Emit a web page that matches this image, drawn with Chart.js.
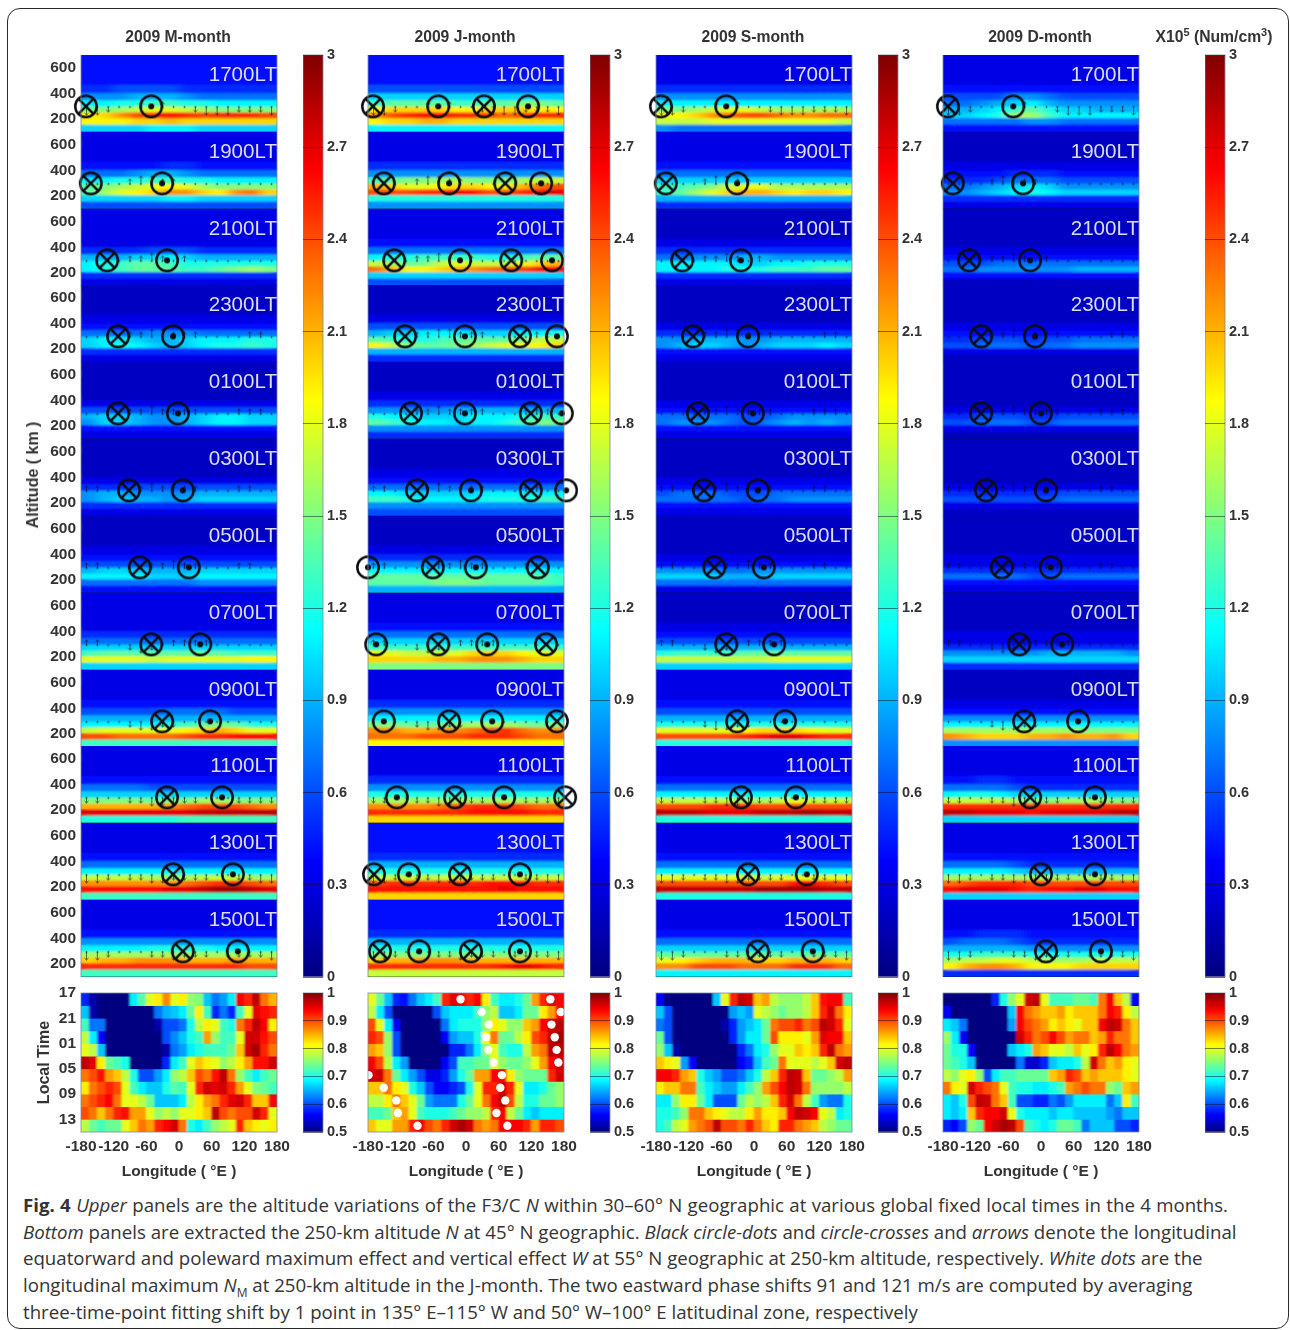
<!DOCTYPE html>
<html>
<head>
<meta charset="utf-8">
<title>Fig. 4</title>
<script src="https://cdn.jsdelivr.net/npm/chart.js@4/dist/chart.umd.min.js"></script>
<style>
  html, body { margin: 0; padding: 0; background: #fff; }
  #page { position: relative; width: 1290px; height: 1330px; overflow: hidden; font-family: "Liberation Sans", Arial, sans-serif; color: #333; }
  #frame { position: absolute; left: 7px; top: 8px; width: 1280px; height: 1319px; border: 1.5px solid #2a2a2a; border-radius: 13px; }
  #figure { position: absolute; left: 0; top: 0; width: 1290px; height: 1190px; filter: blur(0.45px); }
  canvas { position: absolute; }
  .title { position: absolute; top: 28px; font-weight: bold; font-size: 15.7px; white-space: nowrap; transform: translateX(-50%); }
  .title sup { font-size: 11px; line-height: 0; }
  .lt { position: absolute; font-size: 20.6px; color: #dcdcf2; width: 100px; text-align: right; z-index: 5; line-height: 24px; }
  .ylabel { position: absolute; font-weight: bold; font-size: 16px; white-space: nowrap; transform: translate(-50%, -50%) rotate(-90deg); }
  .cap { position: absolute; left: 23px; font-family: "Open Sans", sans-serif; font-size: 18.65px; line-height: 26px; color: #333; white-space: nowrap; }
  .cap sub { font-size: 12px; line-height: 0; }
</style>
</head>
<body>
<div id="page">
  <div id="frame"></div>
  <div id="figure"></div>
  <div class="cap" style="top:1192px;word-spacing:0.5px"><b>Fig. 4</b> <i>Upper</i> panels are the altitude variations of the F3/C <i>N</i> within 30–60° N geographic at various global fixed local times in the 4 months.</div>
  <div class="cap" style="top:1219px"><i>Bottom</i> panels are extracted the 250-km altitude <i>N</i> at 45° N geographic. <i>Black circle-dots</i> and <i>circle-crosses</i> and <i>arrows</i> denote the longitudinal</div>
  <div class="cap" style="top:1245px">equatorward and poleward maximum effect and vertical effect <i>W</i> at 55° N geographic at 250-km altitude, respectively. <i>White dots</i> are the</div>
  <div class="cap" style="top:1272px">longitudinal maximum <i>N</i><sub>M</sub> at 250-km altitude in the J-month. The two eastward phase shifts 91 and 121 m/s are computed by averaging</div>
  <div class="cap" style="top:1299px">three-time-point fitting shift by 1 point in 135° E–115° W and 50° W–100° E latitudinal zone, respectively</div>
</div>
<svg width="0" height="0" style="position:absolute">
  <filter id="softBand" x="-5%" y="-5%" width="110%" height="110%"><feGaussianBlur stdDeviation="6 1.3"/></filter>
  <filter id="softCell" x="-5%" y="-5%" width="110%" height="110%"><feGaussianBlur stdDeviation="1.2 0.7"/></filter>
</svg>
<script>
const monthTitles = ['2009 M-month', '2009 J-month', '2009 S-month', '2009 D-month'];
const localTimes = ['1700', '1900', '2100', '2300', '0100', '0300', '0500', '0700', '0900', '1100', '1300', '1500'];
const lonCenters = [-165, -135, -105, -75, -45, -15, 15, 45, 75, 105, 135, 165];
const altEdges = [700, 470, 405, 350, 300, 255, 210, 160, 100];
const altTicks = [200, 400, 600];
const lonTicks = [-180, -120, -60, 0, 60, 120, 180];
const densityTicks = [0, 0.3, 0.6, 0.9, 1.2, 1.5, 1.8, 2.1, 2.4, 2.7, 3];
const ratioTicks = [0.5, 0.6, 0.7, 0.8, 0.9, 1];
const phaseLons = [-172.5, -157.5, -142.5, -127.5, -112.5, -97.5, -82.5, -67.5, -52.5, -37.5, -22.5, -7.5, 7.5, 22.5, 37.5, 52.5, 67.5, 82.5, 97.5, 112.5, 127.5, 142.5, 157.5, 172.5];
const phaseHours = [17, 19, 21, 23, 25, 27, 29, 31, 33, 35, 37];
const phaseTicks = [17, 21, 25, 29, 33, 37];
const windLons = [-170, -150, -130, -110, -90, -70, -50, -30, -10, 10, 30, 50, 70, 90, 110, 130, 150, 170];

// upper panels: density x 10^4 per altitude bin (top to bottom), one line per local time
const mDensity = [
  [[4,4,4,4,4,4,4,4,4,4,4,4],[5,5,6,6,6,6,5,5,5,5,5,5],[8,8,8,9,9,9,8,7,7,7,7,7],[11,11,12,12,13,13,12,12,11,11,11,11],[15,15,16,17,18,18,17,16,15,15,15,15],[19,20,22,24,25,26,25,24,25,25,25,24],[19,19,19,20,20,21,20,20,20,20,20,20],[10,10,10,10,11,11,11,10,10,10,10,10]],
  [[3,3,3,3,3,3,3,3,3,3,3,3],[4,4,4,4,4,5,5,4,4,4,4,4],[7,7,7,8,9,9,8,7,7,7,7,7],[11,11,12,12,13,13,12,12,11,11,11,11],[14,15,16,17,18,19,18,16,15,15,15,15],[14,16,18,19,20,22,22,20,19,22,23,20],[10,10,10,10,10,11,11,10,10,10,10,10],[6,6,6,6,6,6,6,6,6,6,6,6]],
  [[3,3,3,3,3,3,3,3,3,3,3,3],[3,3,3,3,3,3,3,3,3,3,3,3],[5,5,5,5,6,6,6,5,5,5,5,5],[9,9,9,10,10,11,10,9,9,9,9,9],[11,12,13,14,14,13,12,12,12,12,12,12],[11,12,13,14,14,14,13,13,14,15,16,15],[5,5,5,5,5,5,5,5,5,5,5,5],[3,3,3,3,3,3,3,3,3,3,3,3]],
  [[2,2,2,2,2,2,2,2,2,2,2,2],[3,3,3,3,3,3,3,3,3,3,3,3],[4,4,4,4,4,4,4,4,4,4,4,4],[7,7,7,7,8,8,8,7,7,7,7,7],[10,11,11,10,9,9,10,11,11,11,12,12],[10,11,12,11,10,9,10,11,12,12,13,12],[5,5,5,5,5,5,5,5,5,5,5,5],[3,3,3,3,3,3,3,3,3,3,3,3]],
  [[2,2,2,2,2,2,2,2,2,2,2,2],[2,2,2,2,2,2,2,2,2,2,2,2],[3,3,3,3,3,3,3,3,3,3,3,3],[6,6,6,6,6,6,6,6,6,6,6,6],[9,10,10,9,8,8,9,10,11,11,10,10],[8,10,10,9,8,8,9,10,11,11,10,10],[4,4,4,4,4,4,4,4,4,4,4,4],[3,3,3,3,3,3,3,3,3,3,3,3]],
  [[2,2,2,2,2,2,2,2,2,2,2,2],[2,2,2,2,2,2,2,2,2,2,2,2],[3,3,3,3,3,3,3,3,3,3,3,3],[5,5,5,6,6,6,6,6,6,6,6,6],[8,9,9,8,8,8,8,9,9,9,9,9],[8,9,10,9,9,8,9,10,10,10,10,10],[5,5,5,5,5,5,5,5,5,5,5,5],[3,3,3,3,3,3,3,3,3,3,3,3]],
  [[2,2,2,2,2,2,2,2,2,2,2,2],[3,3,3,3,3,3,3,3,3,3,3,3],[4,4,4,4,4,4,4,4,4,4,4,4],[6,6,6,6,6,6,6,6,6,6,6,6],[9,10,10,10,9,9,9,10,10,10,10,10],[11,11,11,11,10,10,10,11,11,11,11,11],[7,7,7,7,7,7,7,8,8,8,8,8],[4,4,4,4,4,4,4,4,4,4,4,4]],
  [[3,3,3,3,3,3,3,3,3,3,3,3],[3,3,3,3,3,3,3,3,3,3,3,3],[5,5,5,5,5,5,5,5,5,5,5,5],[7,7,7,7,7,7,7,7,7,7,7,7],[10,10,10,10,10,10,10,10,10,10,10,10],[13,14,14,14,14,14,14,14,14,13,13,13],[18,18,18,18,17,18,18,18,18,18,19,19],[10,10,10,10,10,10,10,10,10,10,10,10]],
  [[3,3,3,3,3,3,3,3,3,3,3,3],[4,4,4,4,4,4,4,4,4,4,4,4],[6,6,6,6,6,7,7,7,7,6,6,6],[9,9,9,9,9,9,9,9,9,9,9,9],[11,11,11,11,11,12,13,14,15,14,12,12],[17,18,18,18,18,18,19,20,21,20,18,18],[24,24,23,23,23,23,24,25,25,26,26,26],[13,13,13,13,13,13,13,13,13,13,13,13]],
  [[3,3,3,3,3,3,3,3,3,3,3,3],[4,4,4,4,4,4,4,4,4,4,4,4],[7,7,7,7,6,6,6,6,6,6,6,6],[10,10,10,10,10,10,10,10,10,10,10,10],[15,15,15,15,14,15,15,16,16,15,15,15],[21,21,21,21,21,22,23,24,24,24,23,22],[27,27,27,27,27,27,27,28,28,28,28,28],[12,12,12,12,12,12,13,13,13,13,13,13]],
  [[3,3,3,3,3,3,3,3,3,3,3,3],[4,4,4,4,4,4,4,4,4,4,4,4],[7,7,7,7,7,7,7,7,7,7,7,7],[11,11,11,11,11,11,11,11,11,11,11,11],[17,17,17,17,16,16,16,17,17,17,16,16],[22,22,22,22,22,22,23,24,25,25,24,23],[26,26,26,26,26,27,27,28,29,29,28,27],[13,13,13,13,13,13,13,13,13,13,13,13]],
  [[3,3,3,3,3,3,3,3,3,3,3,3],[4,4,4,4,4,4,4,4,4,4,4,4],[8,8,8,8,8,8,8,8,8,8,8,8],[11,11,11,11,12,12,12,12,11,11,11,11],[16,16,16,16,16,16,16,16,16,16,16,16],[20,21,21,22,22,22,21,21,21,22,21,21],[25,25,25,25,25,25,25,25,25,25,24,24],[13,13,13,13,13,13,13,13,13,13,13,13]]
];
const jDensity = [
  [[4,4,4,4,4,4,4,4,4,4,4,4],[6,6,6,6,6,6,6,6,6,6,6,6],[10,10,10,10,10,10,10,10,10,10,10,10],[13,14,14,14,14,13,13,14,14,15,15,14],[19,20,20,20,20,19,19,20,20,20,19,19],[22,24,25,26,26,25,25,24,23,24,25,25],[19,20,20,21,21,20,20,20,20,20,20,20],[11,11,11,11,11,11,11,11,11,11,11,11]],
  [[3,3,3,3,3,3,3,3,3,3,3,3],[5,5,5,5,5,5,5,5,5,5,5,5],[8,8,8,8,8,8,8,8,8,8,8,8],[13,14,15,15,16,16,15,15,15,16,17,17],[21,20,18,18,19,20,20,19,19,21,23,24],[24,24,24,25,25,26,26,24,24,25,26,27],[12,12,12,12,12,12,12,12,12,12,12,12],[8,8,8,8,8,8,8,8,8,8,8,8]],
  [[3,3,3,3,3,3,3,3,3,3,3,3],[4,4,4,4,4,4,4,4,4,4,4,4],[7,7,7,7,7,7,7,7,7,7,7,7],[11,12,12,13,13,13,13,12,12,13,14,14],[17,16,14,15,17,18,17,17,17,18,20,21],[23,21,19,19,20,21,22,23,24,24,26,26],[10,10,10,10,10,10,10,10,10,10,10,10],[6,6,6,6,6,6,6,6,6,6,6,6]],
  [[2,2,2,2,2,2,2,2,2,2,2,2],[3,3,3,3,3,3,3,3,3,3,3,3],[6,6,6,6,6,6,6,6,6,6,6,6],[9,10,10,11,11,11,10,10,10,11,11,12],[14,13,12,12,13,14,14,14,14,15,17,17],[19,17,15,14,14,15,16,17,18,19,19,20],[9,9,9,9,9,9,9,9,9,9,9,9],[5,5,5,5,5,5,5,5,5,5,5,5]],
  [[2,2,2,2,2,2,2,2,2,2,2,2],[3,3,3,3,3,3,3,3,3,3,3,3],[5,5,5,5,5,5,5,5,5,5,5,5],[8,8,8,8,8,9,9,9,9,9,9,9],[12,11,11,10,10,10,11,11,11,12,13,13],[14,13,12,11,11,10,11,11,12,13,15,15],[8,8,8,8,8,8,8,8,8,8,8,8],[5,5,5,5,5,5,5,5,5,5,5,5]],
  [[2,2,2,2,2,2,2,2,2,2,2,2],[3,3,3,3,3,3,3,3,3,3,3,3],[4,4,4,4,4,4,4,4,4,4,4,4],[7,7,7,7,7,7,7,7,7,7,7,7],[11,11,10,10,10,10,10,11,11,11,11,11],[13,13,12,11,11,11,11,12,12,12,13,13],[8,8,8,8,8,8,8,8,8,8,8,8],[6,6,6,6,6,6,6,6,6,6,6,6]],
  [[2,2,2,2,2,2,2,2,2,2,2,2],[3,3,3,3,3,3,3,3,3,3,3,3],[5,5,5,5,5,5,5,5,5,5,5,5],[8,8,8,8,8,8,8,8,8,8,8,8],[11,11,11,11,11,11,11,11,11,11,11,11],[14,14,14,14,14,14,14,14,14,14,14,13],[14,14,14,14,15,15,15,14,14,14,14,13],[9,9,9,9,9,9,9,9,9,9,9,9]],
  [[3,3,3,3,3,3,3,3,3,3,3,3],[4,4,4,4,4,4,4,4,4,4,4,4],[7,7,7,7,7,7,7,7,7,7,7,7],[10,10,10,10,10,10,10,10,10,10,10,10],[13,13,13,13,13,13,13,13,13,13,13,13],[18,18,17,17,17,18,20,20,20,19,18,18],[20,20,20,20,21,21,22,22,22,21,20,20],[15,15,15,15,15,15,15,15,15,15,15,15]],
  [[3,3,3,3,3,3,3,3,3,3,3,3],[5,5,5,5,5,5,5,5,5,5,5,5],[8,8,8,8,8,8,8,8,8,8,8,8],[11,11,11,11,11,11,11,11,11,11,11,11],[15,15,14,14,14,15,16,16,16,15,14,15],[22,22,21,21,22,22,23,24,25,23,22,22],[23,23,23,24,24,24,25,25,25,24,23,23],[19,19,19,19,19,19,19,19,19,19,19,19]],
  [[3,3,3,3,3,3,3,3,3,3,3,3],[5,5,5,5,5,5,5,5,5,5,5,5],[8,8,8,8,8,8,8,8,8,8,8,8],[12,12,12,12,12,12,12,12,12,12,12,12],[16,16,16,16,16,16,16,16,16,16,16,16],[22,22,22,22,23,24,25,25,25,24,23,23],[25,25,25,25,25,25,26,26,26,26,25,25],[20,20,20,20,20,20,20,20,20,20,20,20]],
  [[4,4,4,4,4,4,4,4,4,4,4,4],[5,5,5,5,5,5,5,5,5,5,5,5],[9,9,9,9,9,9,9,9,9,9,9,9],[12,12,12,12,12,12,12,12,12,12,12,12],[17,17,17,17,17,17,17,17,17,17,17,17],[24,25,25,25,25,25,25,26,26,26,25,25],[26,26,26,26,26,26,26,26,27,26,26,26],[20,20,20,20,20,20,20,20,20,20,20,20]],
  [[4,4,4,4,4,4,4,4,4,4,4,4],[5,5,5,5,5,5,5,5,5,5,5,5],[9,9,9,9,9,9,9,9,9,9,9,9],[12,12,12,12,12,12,12,12,12,12,12,12],[15,15,15,15,15,15,15,15,15,15,15,15],[20,21,21,22,22,22,21,21,21,21,21,21],[25,25,25,25,25,25,25,25,26,27,26,25],[17,17,17,17,17,17,17,17,17,17,17,17]]
];
const sDensity = [
  [[3,3,3,3,3,3,3,3,3,3,3,3],[5,5,5,5,5,5,5,5,5,5,5,5],[8,8,8,8,8,8,8,8,8,8,8,8],[11,11,11,11,11,11,11,11,11,11,11,11],[15,15,16,17,18,18,17,16,16,16,16,16],[19,19,20,22,23,24,24,23,22,22,23,23],[17,17,17,18,18,18,18,18,18,18,18,17],[8,7,7,7,7,7,7,7,7,7,7,7]],
  [[3,3,3,3,3,3,3,3,3,3,3,3],[4,4,4,4,4,4,4,4,4,4,4,4],[7,7,7,7,7,7,7,7,7,7,7,7],[10,10,10,10,10,10,10,10,10,10,10,10],[13,13,14,15,17,18,18,16,16,16,16,16],[13,14,16,18,20,21,21,20,19,20,20,19],[9,9,9,9,9,9,9,9,9,9,9,9],[5,5,5,5,5,5,5,5,5,5,5,5]],
  [[2,2,2,2,2,2,2,2,2,2,2,2],[3,3,3,3,3,3,3,3,3,3,3,3],[5,5,5,5,5,5,5,5,5,5,5,5],[7,7,8,8,8,9,9,8,8,8,8,8],[11,11,11,11,11,10,10,11,11,12,12,12],[11,11,11,11,12,12,12,13,13,13,14,14],[5,5,5,5,5,5,5,5,5,5,5,5],[3,3,3,3,3,3,3,3,3,3,3,3]],
  [[2,2,2,2,2,2,2,2,2,2,2,2],[2,2,2,2,2,2,2,2,2,2,2,2],[3,3,3,3,3,3,3,3,3,3,3,3],[5,5,5,5,5,5,5,5,5,5,5,5],[8,8,9,9,9,8,8,9,9,9,9,9],[8,9,10,10,9,8,9,10,10,10,11,10],[4,4,4,4,4,4,4,4,4,4,4,4],[3,3,3,3,3,3,3,3,3,3,3,3]],
  [[2,2,2,2,2,2,2,2,2,2,2,2],[2,2,2,2,2,2,2,2,2,2,2,2],[3,3,3,3,3,3,3,3,3,3,3,3],[4,4,4,4,4,4,4,4,4,4,4,4],[7,7,7,7,7,6,6,7,8,8,8,8],[7,8,8,8,7,6,7,8,9,8,9,8],[4,4,4,4,4,4,4,4,4,4,4,4],[3,3,3,3,3,3,3,3,3,3,3,3]],
  [[2,2,2,2,2,2,2,2,2,2,2,2],[2,2,2,2,2,2,2,2,2,2,2,2],[3,3,3,3,3,3,3,3,3,3,3,3],[4,4,4,4,4,4,4,4,4,4,4,4],[6,7,7,7,6,6,6,7,7,7,7,7],[7,7,7,7,7,6,7,7,8,8,8,8],[4,4,4,4,4,4,4,4,4,4,4,4],[3,3,3,3,3,3,3,3,3,3,3,3]],
  [[2,2,2,2,2,2,2,2,2,2,2,2],[2,2,2,2,2,2,2,2,2,2,2,2],[3,3,3,3,3,3,3,3,3,3,3,3],[4,4,4,4,4,4,4,4,4,4,4,4],[8,8,8,8,7,7,8,8,8,8,8,8],[10,10,10,10,9,9,9,10,10,10,10,10],[7,7,7,7,7,7,7,7,7,7,7,7],[3,3,3,3,3,3,3,3,3,3,3,3]],
  [[2,2,2,2,2,2,2,2,2,2,2,2],[3,3,3,3,3,3,3,3,3,3,3,3],[4,4,4,4,4,4,4,4,4,4,4,4],[6,6,6,6,6,6,6,6,6,6,6,6],[9,9,9,9,9,9,9,9,9,9,9,9],[12,13,13,13,13,14,14,14,14,14,14,14],[17,17,17,17,17,17,17,18,18,18,18,18],[10,10,10,10,10,10,10,10,10,10,10,10]],
  [[3,3,3,3,3,3,3,3,3,3,3,3],[4,4,4,4,4,4,4,4,4,4,4,4],[6,6,6,6,6,6,6,6,6,6,6,6],[9,9,9,9,9,9,9,9,9,9,9,9],[12,12,12,12,12,12,12,12,12,12,12,12],[18,18,18,18,18,19,20,20,20,19,18,18],[24,24,24,24,24,25,26,27,27,26,25,25],[12,12,12,12,12,12,12,12,12,12,12,12]],
  [[3,3,3,3,3,3,3,3,3,3,3,3],[4,4,4,4,4,4,4,4,4,4,4,4],[7,7,7,7,7,7,7,7,7,7,7,7],[11,11,11,11,11,11,11,11,11,11,11,11],[17,17,17,17,17,16,16,17,18,17,17,17],[24,24,24,25,25,25,24,24,24,24,24,24],[28,28,28,27,27,27,28,28,28,29,28,28],[12,12,12,12,12,12,12,12,12,12,12,12]],
  [[3,3,3,3,3,3,3,3,3,3,3,3],[4,4,4,4,4,4,4,4,4,4,4,4],[7,7,7,7,7,7,7,7,7,7,7,7],[11,11,11,11,11,11,11,11,11,11,11,11],[18,18,18,18,18,18,17,18,18,18,18,18],[24,24,24,24,24,24,24,24,26,26,25,24],[28,28,28,28,28,28,29,29,29,29,28,28],[12,12,12,12,12,12,12,12,12,12,12,12]],
  [[3,3,3,3,3,3,3,3,3,3,3,3],[4,4,4,4,4,4,4,4,4,4,4,4],[7,7,7,7,7,7,7,7,7,7,7,7],[10,10,10,10,10,10,10,10,10,10,10,10],[14,14,14,14,14,14,14,14,14,14,14,14],[18,19,20,21,21,21,20,20,21,21,21,20],[22,22,24,24,24,23,23,23,25,25,25,23],[11,11,11,11,11,11,11,11,11,11,11,11]]
];
const dDensity = [
  [[3,3,3,3,3,3,3,3,3,3,3,3],[4,4,4,4,4,4,4,4,4,4,4,4],[6,6,6,6,8,8,7,6,6,6,6,6],[7,7,8,9,10,11,9,8,8,8,8,8],[9,9,10,11,13,14,12,10,10,9,9,9],[10,10,11,12,16,16,13,11,11,11,11,11],[7,7,7,7,7,8,8,7,7,7,7,7],[4,4,4,4,4,4,4,4,4,4,4,4]],
  [[2,2,2,2,2,2,2,2,2,2,2,2],[3,3,3,3,3,3,3,3,3,3,3,3],[4,4,4,4,5,5,5,4,4,4,4,4],[5,5,5,6,7,7,7,6,6,6,6,6],[7,7,8,9,10,11,10,8,8,8,8,8],[8,8,9,10,11,12,11,10,10,10,10,10],[5,5,5,5,5,5,5,5,5,5,5,5],[3,3,3,3,3,3,3,3,3,3,3,3]],
  [[2,2,2,2,2,2,2,2,2,2,2,2],[2,2,2,2,2,2,2,2,2,2,2,2],[3,3,3,3,3,3,3,3,3,3,3,3],[4,4,4,4,4,4,4,4,4,4,4,4],[6,6,6,7,7,7,7,7,7,7,7,7],[7,7,8,8,8,8,8,8,9,9,9,9],[4,4,4,4,4,4,4,4,4,4,4,4],[2,2,2,2,2,2,2,2,2,2,2,2]],
  [[2,2,2,2,2,2,2,2,2,2,2,2],[2,2,2,2,2,2,2,2,2,2,2,2],[3,3,3,3,3,3,3,3,3,3,3,3],[4,4,4,4,4,4,4,4,4,4,4,4],[5,5,6,6,6,5,6,6,7,7,7,7],[6,6,7,7,7,6,7,7,8,8,8,8],[3,3,3,3,3,3,3,3,3,3,3,3],[2,2,2,2,2,2,2,2,2,2,2,2]],
  [[2,2,2,2,2,2,2,2,2,2,2,2],[2,2,2,2,2,2,2,2,2,2,2,2],[2,2,2,2,2,2,2,2,2,2,2,2],[3,3,3,3,3,3,3,3,3,3,3,3],[5,5,6,6,6,5,5,6,6,6,6,6],[6,6,7,7,7,6,6,7,7,7,7,7],[3,3,3,3,3,3,3,3,3,3,3,3],[2,2,2,2,2,2,2,2,2,2,2,2]],
  [[2,2,2,2,2,2,2,2,2,2,2,2],[2,2,2,2,2,2,2,2,2,2,2,2],[2,2,2,2,2,2,2,2,2,2,2,2],[3,3,3,3,3,3,3,3,3,3,3,3],[5,5,5,5,5,5,5,6,6,6,6,6],[6,6,6,6,6,6,6,7,7,7,7,7],[3,3,3,3,3,3,3,3,3,3,3,3],[2,2,2,2,2,2,2,2,2,2,2,2]],
  [[2,2,2,2,2,2,2,2,2,2,2,2],[2,2,2,2,2,2,2,2,2,2,2,2],[3,3,3,3,3,3,3,3,3,3,3,3],[3,3,3,3,3,3,3,3,3,3,3,3],[5,5,5,5,5,5,5,5,5,5,5,5],[7,7,7,7,7,6,6,7,7,7,7,7],[4,4,4,4,4,4,4,4,4,4,4,4],[3,3,3,3,3,3,3,3,3,3,3,3]],
  [[2,2,2,2,2,2,2,2,2,2,2,2],[2,2,2,2,2,2,2,2,2,2,2,2],[3,3,3,3,3,3,3,3,3,3,3,3],[3,3,3,3,3,3,3,3,3,3,3,3],[5,5,5,5,5,5,5,5,5,5,5,5],[8,8,8,8,8,8,9,9,9,9,9,8],[10,10,10,10,10,10,10,10,10,10,10,10],[5,5,5,5,5,5,5,5,5,5,5,5]],
  [[2,2,2,2,2,2,2,2,2,2,2,2],[3,3,3,3,3,3,3,3,3,3,3,3],[4,4,4,4,4,4,4,4,4,4,4,4],[8,8,8,8,8,8,8,8,8,8,8,8],[11,11,11,11,11,11,11,11,11,11,11,11],[16,16,16,16,16,16,16,16,15,15,15,15],[22,21,20,20,20,21,21,22,21,21,22,20],[8,8,8,8,8,8,8,8,8,8,8,8]],
  [[3,3,3,3,3,3,3,3,3,3,3,3],[4,4,5,5,4,4,4,4,4,4,4,4],[7,7,7,7,6,5,5,5,5,5,5,5],[11,12,12,11,10,10,10,10,10,10,10,10],[17,17,17,17,16,15,15,16,16,16,15,15],[25,25,25,25,25,25,25,25,25,25,25,25],[28,28,27,27,27,26,27,27,27,27,28,28],[10,10,10,10,10,10,10,10,10,10,10,10]],
  [[3,3,3,3,3,3,3,3,3,3,3,3],[4,4,4,4,4,4,4,4,4,4,4,4],[7,7,7,7,6,5,5,5,5,5,5,5],[11,11,11,11,10,9,9,9,9,9,9,9],[16,16,16,16,16,16,16,16,16,16,16,16],[23,24,25,25,25,24,24,24,24,24,24,24],[26,27,27,27,26,25,26,26,27,27,26,26],[10,10,10,10,10,10,10,10,10,10,10,10]],
  [[3,3,3,3,3,3,3,3,3,3,3,3],[4,4,5,5,5,4,4,4,4,4,4,4],[6,7,7,7,6,5,5,5,5,5,5,5],[9,9,9,9,9,8,8,8,8,8,8,8],[12,12,13,13,13,12,12,12,12,12,12,12],[16,17,17,18,18,17,16,16,16,17,17,17],[19,21,22,22,21,19,19,19,20,20,20,20],[5,5,5,5,5,5,5,5,5,5,5,5]]
];

// bottom panels: 250-km density ratio in percent, one line per 2 h step
const mPhase = [
  [58,52,50,50,50,50,68,73,80,82,87,80,82,76,75,66,62,64,68,94,92,97,88,85],
  [66,52,50,50,50,50,50,50,50,62,65,66,68,74,82,72,58,62,58,72,80,95,93,92],
  [72,62,62,50,50,50,50,50,50,52,60,60,62,70,78,82,80,72,70,88,92,97,94,82],
  [78,68,56,50,50,50,50,50,50,50,60,63,66,70,72,86,76,72,72,80,96,96,93,90],
  [80,78,66,50,50,50,50,50,50,50,52,62,64,68,70,72,72,72,74,84,96,98,92,88],
  [97,95,82,74,72,70,50,50,50,50,58,68,72,80,84,82,80,76,78,82,86,93,93,96],
  [88,90,93,86,84,78,70,60,60,64,68,76,78,84,90,88,93,97,88,76,72,68,72,74],
  [82,88,90,92,90,80,72,68,66,66,70,73,72,80,92,96,95,96,92,86,80,75,74,72],
  [88,90,92,94,88,80,80,78,74,66,66,66,68,78,82,86,88,92,95,96,92,84,84,94],
  [90,88,84,88,92,93,86,86,80,76,78,76,80,80,82,84,97,90,88,90,90,96,92,80],
  [78,74,72,74,74,80,84,88,86,92,94,96,88,70,68,72,76,78,80,92,84,82,80,82]
];
const jPhase = [
  [80,74,66,58,57,62,66,68,72,92,95,94,92,94,82,72,68,68,70,74,86,92,95,94],
  [78,68,60,50,50,50,50,50,60,66,68,68,68,72,76,78,66,66,68,74,74,82,86,94],
  [90,80,68,56,50,50,50,50,50,62,68,70,70,70,76,82,80,76,76,84,86,94,96,97],
  [92,90,76,60,50,50,50,50,50,56,64,66,66,70,82,88,74,74,78,82,90,92,97,98],
  [86,84,76,60,50,50,50,50,50,50,58,58,62,68,76,80,72,70,70,78,86,88,97,97],
  [94,90,78,68,64,50,50,50,50,56,60,72,72,74,74,80,76,74,74,76,80,86,94,96],
  [96,96,88,74,68,64,60,55,55,58,64,70,74,86,86,94,94,82,76,74,74,74,92,96],
  [84,84,88,82,80,70,66,60,56,56,58,60,70,80,92,92,96,92,80,68,68,70,74,76],
  [78,78,82,88,84,80,74,64,62,62,62,70,74,80,88,94,97,90,78,70,70,74,74,76],
  [72,72,74,84,86,80,72,70,70,70,72,74,76,76,78,92,94,78,74,68,66,68,68,68],
  [84,80,80,86,86,92,94,90,88,92,96,98,96,88,86,88,94,94,94,92,86,92,92,90]
];
const sPhase = [
  [56,50,50,50,50,50,50,66,80,92,97,96,84,86,78,76,76,76,78,84,93,94,94,72],
  [66,60,50,50,50,50,50,50,50,64,66,64,80,78,76,74,76,76,78,84,92,96,88,82],
  [62,60,50,50,50,50,50,50,52,58,64,66,68,74,88,90,90,92,88,90,97,96,92,80],
  [74,60,50,50,50,50,50,50,50,58,64,68,68,74,90,82,82,82,80,86,95,94,94,84],
  [76,66,52,50,50,50,50,50,50,50,58,62,68,70,76,80,80,84,82,84,92,97,88,86],
  [84,82,80,64,56,50,50,50,50,50,56,58,66,72,74,88,80,80,80,78,80,84,96,97],
  [94,94,92,86,84,70,66,64,60,60,62,66,70,78,84,92,97,96,84,74,74,76,78,86],
  [82,84,84,88,88,72,68,66,64,64,68,72,76,86,90,94,97,96,88,76,76,76,76,78],
  [68,68,76,82,82,74,68,60,60,60,74,78,76,78,84,92,96,88,78,72,64,62,62,70],
  [70,70,72,76,88,88,84,82,80,78,78,82,86,82,82,84,94,97,96,94,80,78,68,70],
  [70,72,78,80,86,88,90,97,90,90,88,92,88,84,82,92,92,88,86,84,78,76,74,74]
];
const dPhase = [
  [50,50,50,50,50,50,58,70,76,80,96,97,80,72,72,72,74,74,72,88,94,84,78,56],
  [56,50,50,50,50,50,50,50,66,94,88,86,84,84,86,82,84,84,84,88,94,92,82,78],
  [68,66,62,50,50,50,50,50,64,94,90,88,86,82,84,82,80,84,84,94,97,96,88,84],
  [76,68,56,50,50,50,50,50,50,96,92,88,90,94,90,86,88,88,84,86,92,88,88,84],
  [74,70,70,56,50,50,50,50,66,68,70,86,84,80,80,78,84,80,82,92,97,94,88,86],
  [74,72,70,66,50,50,50,50,50,62,54,54,58,66,68,68,70,78,96,88,84,86,82,80],
  [78,76,80,82,76,60,68,72,72,74,74,74,74,84,86,92,90,84,86,84,84,84,82,80],
  [88,82,80,96,92,90,88,80,72,70,70,68,68,70,72,86,88,90,88,88,76,74,84,86],
  [68,66,70,90,97,96,88,84,72,60,60,58,58,62,60,64,68,68,68,68,62,66,82,72],
  [68,66,68,84,92,94,94,96,80,70,68,68,68,66,68,68,66,66,66,66,64,62,66,66],
  [58,56,60,76,74,94,96,98,97,90,72,70,68,70,74,74,72,62,66,66,66,60,60,58]
];

// poleward (cross) and equatorward (dot) maxima, longitude per local time
const mCross = [[-171],[-162],[-132],[-112],[-112],[-92],[-72],[-51],[-31],[-22],[-11],[7]];
const mDots = [[-51],[-31],[-22],[-11],[-2],[7],[18],[39],[57],[79],[99],[108]];
const jCross = [[-171,33],[-151,72],[-132,83],[-112,99],[-101,119],[-90,119],[-61,132],[-51,147],[-31,167],[-20,182],[-169,-11],[-158,9]];
const jDots = [[-51,114],[-31,138],[-11,158],[-2,167],[-2,176],[9,184],[-180,18],[-165,39],[-151,48],[-127,70],[-105,99],[-86,99]];
const sCross = [[-171],[-162],[-132],[-112],[-103],[-92],[-73],[-51],[-31],[-24],[-11],[7]];
const sDots = [[-51],[-31],[-24],[-11],[-2],[7],[18],[37],[57],[77],[97],[108]];
const dCross = [[-171],[-162],[-132],[-110],[-110],[-101],[-72],[-40],[-31],[-20],[0],[9]];
const dDots = [[-51],[-33],[-20],[-11],[0],[9],[18],[39],[68],[99],[99],[110]];

// vertical effect W per local time: negative down, positive up, 0 only a dot
const windW = [
  [-2,-2,-1,0,0,1,0,1,0,0,-1,-2,-2,-2,-1,-1,-1,-2],
  [0,0,0,0,1,2,2,1,1,0,0,0,0,0,0,0,0,0],
  [0,0,0,0,1,1,2,1,0,1,0,0,0,0,0,0,0,0],
  [0,0,0,0,1,1,2,2,1,1,1,0,0,0,0,1,1,0],
  [0,0,0,0,1,1,2,1,1,1,1,0,0,0,1,1,1,0],
  [1,1,0,0,0,1,2,1,1,1,1,0,0,0,1,1,0,0],
  [1,1,0,0,0,0,1,1,2,1,1,0,0,0,1,1,0,0],
  [1,1,0,0,-1,-2,-1,0,1,1,1,1,0,0,0,0,0,0],
  [0,0,0,0,-1,-2,-2,-1,-1,0,0,0,0,0,0,0,0,0],
  [-1,-1,0,0,-1,-1,-2,-2,-2,-1,-1,0,0,0,-1,-1,-1,-1],
  [-2,-2,-1,0,-1,-1,-2,-2,-1,-1,-1,-1,0,0,-1,-1,-2,-2],
  [-2,-2,-1,0,0,0,-1,-1,-2,-1,-1,-1,0,-1,-1,-1,-1,-2]
];

// white dots of the J-month bottom panel: [longitude, hour]
const jWhiteLon = [-10,155,28.5,174,42,157,37,163,41,166.5,50.6,169.6,-179,66,-151,63,-128,72,-125,56,-89,76];
const jWhiteHour = [18,18,20,20,22,22,24,24,26,26,28,28,30,30,32,32,34,34,36,36,38,38];

const panelLefts = [81, 368, 656, 943];
const barLefts = [303, 590, 878, 1205];
const density = [mDensity, jDensity, sDensity, dDensity];
const phase = [mPhase, jPhase, sPhase, dPhase];
const crosses = [mCross, jCross, sCross, dCross];
const dots = [mDots, jDots, sDots, dDots];

const AXIS_FONT = { family: "'Liberation Sans', Arial, sans-serif", size: 15.5, weight: 'bold' };
const BAR_FONT = { family: "'Liberation Sans', Arial, sans-serif", size: 14.5, weight: 'bold' };
const SIDE_FONT = { family: "'Liberation Sans', Arial, sans-serif", size: 16, weight: 'bold' };
const AXIS_COLOR = '#333';
const figure = document.getElementById('figure');

// matlab jet, t in 0..1
function jet(t) {
  const ch = x => Math.round(255 * Math.max(0, Math.min(1, 1.5 - Math.abs(4 * t - x))));
  return `rgb(${ch(3)},${ch(2)},${ch(1)})`;
}

function makeIcon(w, h, draw) {
  const c = document.createElement('canvas');
  c.width = w;
  c.height = h;
  const g = c.getContext('2d');
  g.translate(w / 2, h / 2);
  g.strokeStyle = g.fillStyle = '#0c0c14';
  draw(g);
  return c;
}

const crossIcon = makeIcon(28, 28, g => {
  g.lineWidth = 2.5;
  g.beginPath();
  g.arc(0, 0, 10.7, 0, Math.PI * 2);
  g.moveTo(-7.6, -7.6);
  g.lineTo(7.6, 7.6);
  g.moveTo(7.6, -7.6);
  g.lineTo(-7.6, 7.6);
  g.stroke();
});
const dotIcon = makeIcon(28, 28, g => {
  g.lineWidth = 2.5;
  g.beginPath();
  g.arc(0, 0, 10.7, 0, Math.PI * 2);
  g.stroke();
  g.beginPath();
  g.arc(0, 0, 3, 0, Math.PI * 2);
  g.fill();
});

function arrowIcon(len) {
  return makeIcon(7, 21, g => {
    g.globalAlpha = 0.75;
    g.lineWidth = 0.8;
    g.beginPath();
    g.arc(0, 0, 0.9, 0, Math.PI * 2);
    g.fill();
    if (!len) return;
    g.beginPath();
    g.moveTo(0, 0);
    g.lineTo(0, len);
    g.moveTo(-2, len - 2 * Math.sign(len));
    g.lineTo(0, len);
    g.lineTo(2, len - 2 * Math.sign(len));
    g.stroke();
  });
}
const windIcons = { '-2': arrowIcon(8), '-1': arrowIcon(5), '0': arrowIcon(0), '1': arrowIcon(-5), '2': arrowIcon(-8) };

// soften the heat cells, then markers get drawn sharp on top
function softenPlugin(filter) {
  return {
    id: 'soften',
    afterDatasetDraw(chart, args) {
      if (args.index !== 0) return;
      const { ctx, canvas, chartArea: a } = chart;
      ctx.save();
      ctx.beginPath();
      ctx.rect(a.left, a.top, a.width, a.height);
      ctx.clip();
      ctx.filter = filter;
      ctx.drawImage(canvas, 0, 0);
      ctx.restore();
    }
  };
}

const framePlugin = {
  id: 'panelFrame',
  afterDatasetsDraw(chart) {
    const { ctx, chartArea: a } = chart;
    ctx.save();
    ctx.strokeStyle = 'rgba(125,135,160,0.8)';
    ctx.lineWidth = 1;
    ctx.strokeRect(a.left, a.top, a.width, a.height);
    ctx.restore();
  }
};

// stacked panels: grey sides only, plus a faint dark line under each one
const stackEdgePlugin = {
  id: 'stackEdge',
  afterDatasetsDraw(chart) {
    const { ctx, chartArea: a } = chart;
    ctx.save();
    ctx.lineWidth = 1;
    ctx.strokeStyle = 'rgba(125,135,160,0.8)';
    ctx.beginPath();
    ctx.moveTo(a.left, a.top);
    ctx.lineTo(a.left, a.bottom);
    ctx.moveTo(a.right, a.top);
    ctx.lineTo(a.right, a.bottom);
    ctx.stroke();
    ctx.strokeStyle = 'rgba(0,30,60,0.35)';
    ctx.beginPath();
    ctx.moveTo(a.left, a.bottom - 0.5);
    ctx.lineTo(a.right, a.bottom - 0.5);
    ctx.stroke();
    ctx.restore();
  }
};

// axes must not claim room for their labels, the panels sit at fixed places
function fixAxisBox(s, size) {
  if (s.isHorizontal()) s.height = size;
  else s.width = size;
  s.paddingLeft = s.paddingRight = s.paddingTop = s.paddingBottom = 0;
}

function addCanvas(left, top, width, height) {
  const c = document.createElement('canvas');
  c.style.left = left + 'px';
  c.style.top = top + 'px';
  c.width = width;
  c.height = height;
  figure.appendChild(c);
  return c;
}

const baseOptions = {
  responsive: false,
  animation: false,
  events: [],
  plugins: { legend: { display: false }, tooltip: { enabled: false }, title: { display: false } }
};

function heatDataset(points, colorOf) {
  return {
    data: points,
    barPercentage: 1,
    categoryPercentage: 1,
    grouped: false,
    borderWidth: 0,
    backgroundColor: c => colorOf(c.raw.v)
  };
}

function markerDataset(lons, y, icon) {
  return { type: 'scatter', order: -1, clip: false, data: lons.map(x => ({ x, y })), pointStyle: icon };
}

function drawUpperPanel(col, row) {
  const top = Math.round(55 + row * 76.83);
  const showAxis = col === 0;
  const padLeft = showAxis ? 46 : 14;
  const canvas = addCanvas(panelLefts[col] - padLeft, top, 196 + padLeft + 14, 77);
  const rows = density[col][row];

  const datasets = rows.map((vals, i) => heatDataset(
    lonCenters.map((x, j) => ({ x, y: [altEdges[i + 1], altEdges[i]], v: vals[j] })),
    v => jet(v / 30)
  ));
  datasets.push(markerDataset(crosses[col][row], 300, crossIcon));
  datasets.push(markerDataset(dots[col][row], 300, dotIcon));
  datasets.push({
    type: 'scatter',
    order: -0.5,
    clip: false,
    data: windLons.map((x, j) => ({ x, y: 295, w: windW[row][j] })),
    pointStyle: c => windIcons[c.raw.w]
  });

  new Chart(canvas, {
    type: 'bar',
    data: { datasets },
    options: {
      ...baseOptions,
      layout: { autoPadding: false, padding: { left: showAxis ? 0 : 14, right: 14, top: 0, bottom: 0 } },
      scales: {
        x: { type: 'linear', min: -180, max: 180, offset: false, display: false },
        y: {
          type: 'linear',
          min: 100,
          max: 700,
          display: showAxis,
          border: { display: false },
          grid: { display: false, drawTicks: false },
          afterFit: s => { if (showAxis) fixAxisBox(s, 46); },
          afterBuildTicks: s => { s.ticks = altTicks.map(value => ({ value })); },
          ticks: { color: AXIS_COLOR, font: AXIS_FONT, padding: 5 }
        }
      }
    },
    plugins: [softenPlugin('url(#softBand)'), stackEdgePlugin]
  });

  const label = document.createElement('div');
  label.className = 'lt';
  label.textContent = localTimes[row] + 'LT';
  label.style.left = (panelLefts[col] + 196 - 100) + 'px';
  label.style.top = (top + 7) + 'px';
  figure.appendChild(label);
}

function drawPhasePanel(col) {
  const showAxis = col === 0;
  const padLeft = 46;
  const canvas = addCanvas(panelLefts[col] - padLeft, 983, 196 + padLeft + 40, 10 + 139 + 51);

  const datasets = phase[col].map((vals, i) => heatDataset(
    phaseLons.map((x, j) => ({ x, y: [phaseHours[i], phaseHours[i] + 2], v: vals[j] })),
    v => jet((v - 50) / 50)
  ));
  if (col === 1) {
    datasets.push({
      type: 'scatter',
      order: -1,
      clip: false,
      data: jWhiteLon.map((x, i) => ({ x, y: jWhiteHour[i] })),
      pointStyle: 'circle',
      pointRadius: 4.2,
      pointBorderWidth: 0,
      pointBackgroundColor: '#fff'
    });
  }

  new Chart(canvas, {
    type: 'bar',
    data: { datasets },
    options: {
      ...baseOptions,
      layout: { autoPadding: false, padding: { left: showAxis ? 0 : padLeft, right: 40, top: 10, bottom: 0 } },
      scales: {
        x: {
          type: 'linear',
          min: -180,
          max: 180,
          offset: false,
          border: { display: false },
          grid: { display: false, drawTicks: false },
          afterFit: s => fixAxisBox(s, 51),
          afterBuildTicks: s => { s.ticks = lonTicks.map(value => ({ value })); },
          ticks: { color: AXIS_COLOR, font: AXIS_FONT, padding: 5, autoSkip: false, maxRotation: 0, callback: v => String(v) },
          title: { display: true, text: 'Longitude ( °E )', color: AXIS_COLOR, font: AXIS_FONT, padding: { top: 4, bottom: 2 } }
        },
        y: {
          type: 'linear',
          min: 17,
          max: 39,
          reverse: true,
          display: showAxis,
          border: { display: false },
          grid: { display: false, drawTicks: false },
          afterFit: s => { if (showAxis) fixAxisBox(s, padLeft); },
          afterBuildTicks: s => { s.ticks = phaseTicks.map(value => ({ value })); },
          ticks: { color: AXIS_COLOR, font: AXIS_FONT, padding: 5, callback: v => String(v % 24).padStart(2, '0') },
          title: { display: true, text: 'Local Time', color: AXIS_COLOR, font: SIDE_FONT, padding: { top: 0, bottom: 4 } }
        }
      }
    },
    plugins: [softenPlugin('url(#softCell)'), framePlugin]
  });
}

function drawColorBar(left, top, height, lo, hi, ticks) {
  const canvas = addCanvas(left, top - 10, 20 + 44, height + 20);
  new Chart(canvas, {
    type: 'bar',
    data: {
      labels: ['bar'],
      datasets: [{
        data: [[lo, hi]],
        barPercentage: 1,
        categoryPercentage: 1,
        borderWidth: 0,
        backgroundColor: c => {
          const area = c.chart.chartArea;
          if (!area) return '#000';
          const grad = c.chart.ctx.createLinearGradient(0, area.bottom, 0, area.top);
          for (let s = 0; s <= 16; s++) grad.addColorStop(s / 16, jet(s / 16));
          return grad;
        }
      }]
    },
    options: {
      ...baseOptions,
      layout: { autoPadding: false, padding: { left: 0, right: 0, top: 10, bottom: 10 } },
      scales: {
        x: { display: false },
        y: {
          type: 'linear',
          position: 'right',
          min: lo,
          max: hi,
          border: { display: false },
          grid: { z: 1, color: 'rgba(20,10,30,0.5)', drawTicks: false },
          afterFit: s => fixAxisBox(s, 44),
          afterBuildTicks: s => { s.ticks = ticks.map(value => ({ value })); },
          ticks: { color: AXIS_COLOR, font: BAR_FONT, padding: 4, callback: v => String(+v.toFixed(1)) }
        }
      }
    },
    plugins: [framePlugin]
  });
}

function addTitle(x, html) {
  const t = document.createElement('div');
  t.className = 'title';
  t.style.left = x + 'px';
  t.innerHTML = html;
  figure.appendChild(t);
}

monthTitles.forEach((title, col) => {
  addTitle(panelLefts[col] + 97, title);
  localTimes.forEach((lt, row) => drawUpperPanel(col, row));
  drawPhasePanel(col);
  drawColorBar(barLefts[col], 55, 922, 0, 3, densityTicks);
  drawColorBar(barLefts[col], 993, 139, 0.5, 1, ratioTicks);
});
addTitle(1214, 'X10<sup>5</sup> (Num/cm<sup>3</sup>)');

const altLabel = document.createElement('div');
altLabel.className = 'ylabel';
altLabel.style.left = '33px';
altLabel.style.top = '475px';
altLabel.textContent = 'Altitude ( km )';
figure.appendChild(altLabel);
</script>
</body>
</html>
